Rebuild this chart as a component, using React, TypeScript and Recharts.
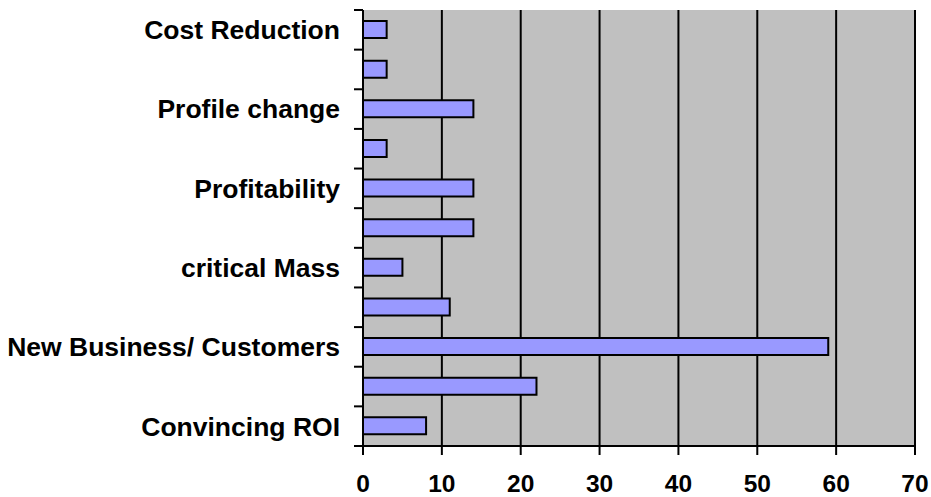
import React from "react";
import { BarChart, Bar, XAxis, YAxis, CartesianGrid } from "recharts";

const categories = [
  "Cost Reduction",
  "",
  "Profile change",
  "",
  "Profitability",
  "",
  "critical Mass",
  "",
  "New Business/ Customers",
  "",
  "Convincing ROI",
];
const values = [3, 3, 14, 3, 14, 14, 5, 11, 59, 22, 8];
const xTicks = [0, 10, 20, 30, 40, 50, 60, 70];

const data = categories.map((c, i) => ({ cat: c, value: values[i] }));

const W = 931;
const H = 497;
const M = { top: 10, right: 16, bottom: 0, left: 0 };
const XH = 51;
const YW = 363;
const PLOT_H = H - M.top - M.bottom - XH;
const HALF = PLOT_H / categories.length / 2;
const TICK_SIZE = 9;
const TICK_MARGIN = 14;
const FONT = "'Liberation Sans', Arial, sans-serif";

const CatTick = (props: any) => {
  const { x, y, payload, index } = props;
  const ax = x + TICK_MARGIN + TICK_SIZE;
  const last = index === categories.length - 1;
  return (
    <g>
      <line x1={ax - TICK_SIZE} x2={ax} y1={y - HALF} y2={y - HALF} stroke="#000" strokeWidth={2} />
      {last && (
        <line x1={ax - TICK_SIZE} x2={ax} y1={y + HALF} y2={y + HALF} stroke="#000" strokeWidth={2} />
      )}
      <text
        x={x}
        y={y}
        dy="0.355em"
        textAnchor="end"
        fontFamily={FONT}
        fontWeight="bold"
        fontSize={26.5}
        fill="#000"
      >
        {payload.value}
      </text>
    </g>
  );
};

export default function App() {
  return (
    <div style={{ position: "absolute", left: 0, top: 0 }}>
      <BarChart width={W} height={H} data={data} layout="vertical" margin={M} barCategoryGap={0}>
        <CartesianGrid
          horizontal={false}
          vertical={true}
          stroke="#000"
          strokeWidth={2}
          fill="#C0C0C0"
          fillOpacity={1}
        />
        <XAxis
          type="number"
          domain={[0, 70]}
          ticks={xTicks}
          interval={0}
          height={XH}
          tickSize={TICK_SIZE}
          tickMargin={20}
          axisLine={{ stroke: "#000", strokeWidth: 2 }}
          tickLine={{ stroke: "#000", strokeWidth: 2 }}
          tick={{ fill: "#000", fontFamily: FONT, fontWeight: "bold", fontSize: 24.5 }}
        />
        <XAxis
          xAxisId="top"
          orientation="top"
          type="number"
          domain={[0, 70]}
          height={0}
          tick={false}
          tickLine={false}
          axisLine={{ stroke: "#808080", strokeWidth: 2 }}
        />
        <YAxis
          yAxisId="cat"
          type="category"
          dataKey="cat"
          width={YW}
          interval={0}
          tickSize={TICK_SIZE}
          tickMargin={TICK_MARGIN}
          tickLine={{ stroke: "none" }}
          axisLine={{ stroke: "#000", strokeWidth: 2 }}
          tick={<CatTick />}
        />
        <YAxis
          yAxisId="right"
          orientation="right"
          type="category"
          dataKey="cat"
          width={0}
          tick={false}
          tickLine={false}
          axisLine={{ stroke: "#808080", strokeWidth: 2 }}
        />
        <Bar
          dataKey="value"
          yAxisId="cat"
          fill="#9999FF"
          stroke="#000"
          strokeWidth={2}
          barSize={17}
          isAnimationActive={false}
        />
      </BarChart>
    </div>
  );
}
